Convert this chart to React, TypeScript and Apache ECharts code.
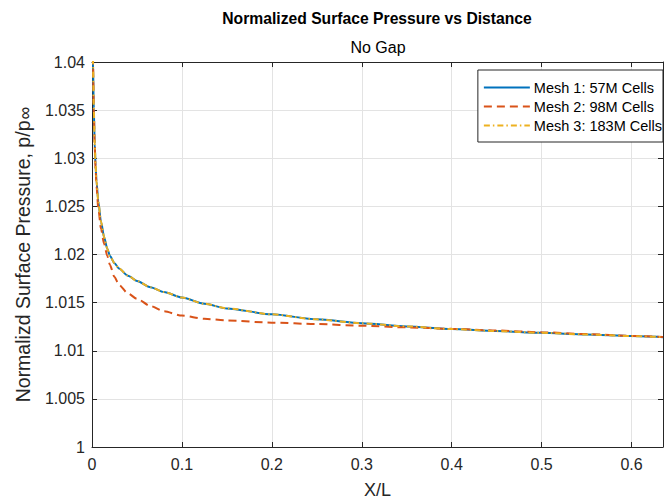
import React, { useEffect, useRef } from 'react';
import * as echarts from 'echarts';

// Distance along the surface, X/L
const xOverL = [
  0.0005, 0.001, 0.002, 0.003, 0.004, 0.005, 0.007, 0.01, 0.0135, 0.017, 0.02, 0.025,
  0.03, 0.04, 0.05, 0.065, 0.08, 0.1, 0.125, 0.15, 0.2, 0.25, 0.3, 0.35, 0.4, 0.45,
  0.5, 0.55, 0.6, 0.635,
];

// Normalized surface pressure p/p∞ for each mesh
const mesh1 = [
  1.046, 1.0405, 1.0352, 1.0315, 1.0292, 1.0276, 1.0255, 1.0234, 1.0218, 1.0206, 1.01985,
  1.0191, 1.01855, 1.0178, 1.01725, 1.0166, 1.0161, 1.01553, 1.01488, 1.0144, 1.01378,
  1.01326, 1.01285, 1.01253, 1.01225, 1.01204, 1.01186, 1.01169, 1.01152, 1.01141,
];
const mesh2 = [
  1.046, 1.0405, 1.0351, 1.0313, 1.0289, 1.0271, 1.0248, 1.0227, 1.0211, 1.01985, 1.0189,
  1.01765, 1.01685, 1.01595, 1.0154, 1.01465, 1.0141, 1.01365, 1.01332, 1.01315, 1.01292,
  1.01277, 1.0126, 1.01243, 1.01228, 1.0121, 1.01192, 1.01173, 1.01154, 1.01142,
];
const mesh3 = [
  1.046, 1.0405, 1.0352, 1.0315, 1.0292, 1.0276, 1.0255, 1.0234, 1.0218, 1.0206, 1.01985,
  1.0191, 1.01855, 1.0178, 1.01725, 1.0166, 1.0161, 1.01553, 1.01488, 1.0144, 1.01378,
  1.01326, 1.01285, 1.01253, 1.01225, 1.01204, 1.01186, 1.01169, 1.01152, 1.01141,
];

const seriesNames = ['Mesh 1: 57M Cells', 'Mesh 2: 98M Cells', 'Mesh 3: 183M Cells'];

const FONT = "'Liberation Sans', Arial, Helvetica, sans-serif";
const INK = '#262626';
const GRIDLINE = '#e3e3e3';

const pairs = (ys: number[]) => xOverL.map((x, i) => [x, ys[i]]);

export default function App() {
  const ref = useRef<HTMLDivElement>(null);

  useEffect(() => {
    if (!ref.current) return;
    const chart = echarts.init(ref.current, undefined, { renderer: 'svg' });

    const lineSeries = (name: string, ys: number[], color: string, type: any) => ({
      name,
      type: 'line',
      xAxisIndex: 0,
      yAxisIndex: 0,
      data: pairs(ys),
      symbol: 'none',
      showSymbol: false,
      smooth: 0.25,
      smoothMonotone: 'x',
      clip: true,
      lineStyle: { color, width: 2, type },
      itemStyle: { color },
    });

    const axisCommon = {
      axisLine: { show: true, onZero: false, lineStyle: { color: INK, width: 1 } },
      axisTick: { show: true, inside: true, length: 5, lineStyle: { color: INK } },
    };

    chart.setOption({
      animation: false,
      backgroundColor: '#ffffff',
      textStyle: { fontFamily: FONT },
      graphic: [
        {
          type: 'text',
          x: 377,
          y: 18,
          style: {
            text: 'Normalized Surface Pressure vs Distance',
            font: `bold 15.7px ${FONT}`,
            fill: '#000',
            align: 'center',
            verticalAlign: 'middle',
          },
        },
        {
          type: 'text',
          x: 378,
          y: 47,
          style: {
            text: 'No Gap',
            font: `16px ${FONT}`,
            fill: '#000',
            align: 'center',
            verticalAlign: 'middle',
          },
        },
      ],
      legend: {
        orient: 'vertical',
        right: 1,
        top: 70,
        data: seriesNames,
        itemWidth: 46,
        itemHeight: 14,
        itemGap: 4,
        padding: [10, 1, 9, 5],
        borderColor: INK,
        borderWidth: 1,
        backgroundColor: '#ffffff',
        itemStyle: { opacity: 0, borderWidth: 0 },
        textStyle: { fontSize: 14.5, color: '#000', fontFamily: FONT, padding: [0, 0, 0, -1] },
      },
      grid: {
        left: 92,
        right: 1,
        top: 62,
        bottom: 53,
        containLabel: false,
        outerBoundsMode: 'none',
      },
      xAxis: [
        {
          type: 'value',
          position: 'bottom',
          min: 0,
          max: 0.635,
          interval: 0.1,
          ...axisCommon,
          axisLabel: {
            fontSize: 16,
            color: INK,
            margin: 9,
            showMaxLabel: false,
            fontFamily: FONT,
          },
          splitLine: { show: true, lineStyle: { color: GRIDLINE, width: 1 } },
          name: 'X/L',
          nameLocation: 'middle',
          nameGap: 34,
          nameTextStyle: { fontSize: 18, color: INK, fontFamily: FONT },
        },
        {
          type: 'value',
          position: 'top',
          min: 0,
          max: 0.635,
          interval: 0.1,
          ...axisCommon,
          axisLabel: { show: false },
          splitLine: { show: false },
        },
      ],
      yAxis: [
        {
          type: 'value',
          position: 'left',
          min: 1,
          max: 1.04,
          interval: 0.005,
          ...axisCommon,
          axisLabel: { fontSize: 16, color: INK, margin: 7, fontFamily: FONT },
          splitLine: { show: true, lineStyle: { color: GRIDLINE, width: 1 } },
          name: '{m|Normalizd Surface Pressure, p/p}{s|∞}',
          nameLocation: 'middle',
          nameGap: 56,
          nameRotate: 90,
          nameTextStyle: {
            color: INK,
            fontFamily: FONT,
            rich: {
              m: { fontSize: 19.5, lineHeight: 21, verticalAlign: 'top', color: INK, fontFamily: FONT },
              s: {
                fontSize: 18,
                lineHeight: 15,
                padding: [11, 0, 0, 1],
                verticalAlign: 'bottom',
                color: INK,
                fontFamily: FONT,
              },
            },
          },
        },
        {
          type: 'value',
          position: 'right',
          min: 1,
          max: 1.04,
          interval: 0.005,
          ...axisCommon,
          axisLabel: { show: false },
          splitLine: { show: false },
        },
      ],
      series: [
        lineSeries(seriesNames[0], mesh1, '#0072BD', 'solid'),
        lineSeries(seriesNames[1], mesh2, '#D95319', [8, 5]),
        lineSeries(seriesNames[2], mesh3, '#EDB120', [6, 3, 1.5, 3]),
      ],
    });

    return () => chart.dispose();
  }, []);

  return (
    <div
      ref={ref}
      style={{ position: 'fixed', left: 0, top: 0, width: 664, height: 500, background: '#fff' }}
    />
  );
}
